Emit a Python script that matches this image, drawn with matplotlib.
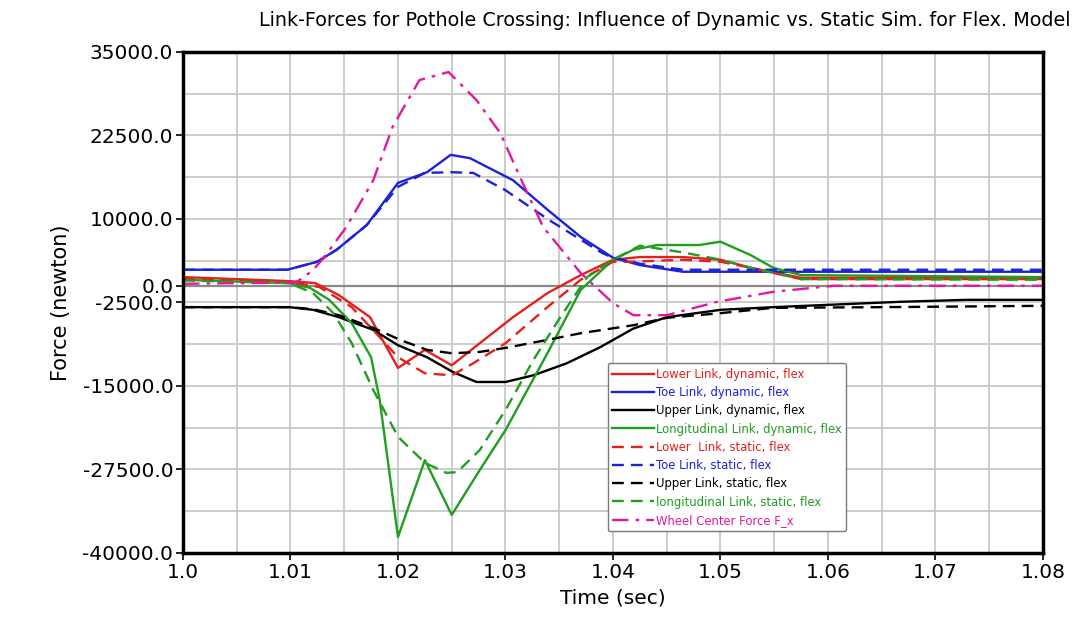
import numpy as np
import matplotlib
matplotlib.use("Agg")
import matplotlib.pyplot as plt

# link force histories (time in s, force in N)
lower_dyn_t = [1.0, 1.0099, 1.0123, 1.0145, 1.0174, 1.020, 1.0225, 1.025, 1.0276, 1.0307,
               1.0339, 1.037, 1.040, 1.0425, 1.0465, 1.050, 1.0528, 1.0575, 1.08]
lower_dyn_f = [1300, 700, 400, -1400, -4700, -12300, -9600, -11900, -8600, -4700,
               -1100, 1600, 3900, 4300, 4300, 3900, 2700, 1200, 1200]

toe_dyn_t = [1.0, 1.0097, 1.0125, 1.0143, 1.0171, 1.020, 1.0227, 1.0249, 1.0267, 1.0307,
             1.0339, 1.037, 1.040, 1.0425, 1.0465, 1.055, 1.08]
toe_dyn_f = [2400, 2400, 3600, 5400, 9100, 15400, 17000, 19600, 19100, 15800,
             11400, 7300, 4200, 3100, 2100, 2100, 2100]

upper_dyn_t = [1.0, 1.0099, 1.0121, 1.0145, 1.0177, 1.020, 1.0227, 1.0251, 1.0273, 1.030,
               1.0326, 1.0357, 1.0388, 1.0419, 1.045, 1.050, 1.0549, 1.0667, 1.073, 1.08]
upper_dyn_f = [-3200, -3200, -3600, -4700, -6600, -8900, -10700, -12900, -14400, -14400,
               -13400, -11600, -9200, -6400, -4700, -3600, -3200, -2400, -2100, -2100]

long_dyn_t = [1.0, 1.0099, 1.0118, 1.0136, 1.0157, 1.0175, 1.0183, 1.020, 1.0225, 1.025,
              1.0276, 1.030, 1.0339, 1.037, 1.040, 1.0419, 1.0441, 1.048, 1.050, 1.0528,
              1.0549, 1.0575, 1.08]
long_dyn_f = [900, 400, -300, -2100, -5600, -10700, -17100, -37600, -26100, -34300,
              -27600, -21600, -10100, -600, 3900, 5400, 6100, 6100, 6600, 4600,
              2700, 1600, 1300]

lower_sta_t = [1.0, 1.0099, 1.0127, 1.0157, 1.0183, 1.020, 1.0225, 1.025, 1.027, 1.030,
               1.0339, 1.037, 1.040, 1.0419, 1.0465, 1.050, 1.0528, 1.0575, 1.08]
lower_sta_f = [1100, 600, -200, -3200, -7700, -10700, -13100, -13400, -11600, -8600,
               -3200, 900, 3600, 3600, 3900, 3600, 2700, 1000, 1000]

toe_sta_t = [1.0, 1.0097, 1.0125, 1.0143, 1.0171, 1.020, 1.0225, 1.025, 1.027, 1.030,
             1.034, 1.037, 1.039, 1.040, 1.0425, 1.0465, 1.08]
toe_sta_f = [2400, 2400, 3600, 5400, 9100, 14800, 16900, 17000, 16900, 14300,
             9900, 6900, 4900, 4200, 3300, 2400, 2400]

upper_sta_t = [1.0, 1.0099, 1.0121, 1.0145, 1.0177, 1.0202, 1.0227, 1.025, 1.0276, 1.030,
               1.0339, 1.037, 1.0419, 1.045, 1.050, 1.0549, 1.065, 1.08]
upper_sta_f = [-3200, -3200, -3500, -4400, -6300, -8100, -9600, -10100, -9900, -9300,
               -8100, -7100, -5900, -4800, -4100, -3300, -3200, -3000]

long_sta_t = [1.0, 1.0099, 1.0121, 1.014, 1.0157, 1.0177, 1.020, 1.0225, 1.0245, 1.0255,
              1.0276, 1.030, 1.0326, 1.0351, 1.0376, 1.040, 1.0425, 1.0465, 1.050, 1.0528,
              1.0575, 1.08]
long_sta_f = [800, 400, -1100, -4100, -8600, -15600, -22600, -26500, -28000, -27900,
              -24600, -18600, -11100, -4700, 1300, 3900, 6000, 5000, 3900, 2700,
              1000, 900]

wheel_t = [1.0, 1.0105, 1.012, 1.013, 1.0152, 1.0177, 1.0195, 1.022, 1.0247, 1.0273,
           1.0295, 1.0316, 1.0335, 1.037, 1.040, 1.0419, 1.045, 1.0497, 1.0549, 1.0605,
           1.065, 1.08]
wheel_f = [300, 500, 2200, 4000, 8800, 15800, 23800, 30800, 32000, 27800,
           22900, 15400, 8800, 1900, -2600, -4400, -4400, -2400, -900, 0,
           0, 0]

labels = [
    "Lower Link, dynamic, flex",
    "Toe Link, dynamic, flex",
    "Upper Link, dynamic, flex",
    "Longitudinal Link, dynamic, flex",
    "Lower  Link, static, flex",
    "Toe Link, static, flex",
    "Upper Link, static, flex",
    "longitudinal Link, static, flex",
    "Wheel Center Force F_x",
]

y_ticks = [-40000, -27500, -15000, -2500, 0, 10000, 22500, 35000]
x_ticks = [1.0, 1.01, 1.02, 1.03, 1.04, 1.05, 1.06, 1.07, 1.08]
x_tick_labels = ["1.0", "1.01", "1.02", "1.03", "1.04", "1.05", "1.06", "1.07", "1.08"]

RED, BLUE, BLACK, GREEN, MAGENTA = "#e3201b", "#1c22d6", "#000000", "#1f9e1f", "#e3189c"
dash = (0, (5, 3))

series = [
    (lower_dyn_t, lower_dyn_f, RED, "-"),
    (toe_dyn_t, toe_dyn_f, BLUE, "-"),
    (upper_dyn_t, upper_dyn_f, BLACK, "-"),
    (long_dyn_t, long_dyn_f, GREEN, "-"),
    (lower_sta_t, lower_sta_f, RED, dash),
    (toe_sta_t, toe_sta_f, BLUE, dash),
    (upper_sta_t, upper_sta_f, BLACK, dash),
    (long_sta_t, long_sta_f, GREEN, dash),
    (wheel_t, wheel_f, MAGENTA, (0, (7, 3, 1.5, 3))),
]

fig = plt.figure(figsize=(10.86, 6.18), dpi=100)
ax = fig.add_axes([0.1685, 0.1052, 0.7919, 0.8107])

ax.set_xlim(1.0, 1.08)
ax.set_ylim(-40000, 35000)

ax.set_xticks(x_ticks)
ax.set_xticklabels(x_tick_labels)
ax.set_xticks(np.arange(1.0, 1.0801, 0.005), minor=True)
ax.set_yticks(y_ticks)
ax.set_yticklabels([f"{v:.1f}" for v in y_ticks])
ax.set_yticks(np.arange(-40000, 35001, 6250), minor=True)
ax.grid(True, which="both", color="#c8c8c8", linewidth=1.3)
ax.axhline(0, color="#8a8a8a", linewidth=1.6, zorder=1)
ax.tick_params(which="major", length=5, width=1.2, labelsize=14.5, pad=2)
ax.tick_params(which="minor", length=0)
ax.set_axisbelow(True)

for sp in ax.spines.values():
    sp.set_linewidth(2.5)

handles = []
for (t, f, color, ls), label in zip(series, labels):
    (line,) = ax.plot(t, f, color=color, linestyle=ls, linewidth=1.7, label=label)
    handles.append(line)

leg = ax.legend(
    handles=handles,
    loc="upper left",
    bbox_to_anchor=(0.494, 0.379),
    fontsize=8.4,
    handlelength=3.6,
    handletextpad=0.1,
    labelspacing=0.45,
    borderaxespad=0,
    fancybox=True,
    framealpha=1,
    edgecolor="#7a7a7a",
)
leg.get_frame().set_linewidth(1.0)
for text, (_, _, color, _) in zip(leg.get_texts(), series):
    text.set_color(color)

ax.set_xlabel("Time (sec)", fontsize=14.5, labelpad=5)
ax.set_ylabel("Force (newton)", fontsize=15, labelpad=8)
fig.text(0.612, 0.967, "Link-Forces for Pothole Crossing: Influence of Dynamic vs. Static Sim. for Flex. Model",
         ha="center", va="center", fontsize=13.8)

fig.savefig("out.png", dpi=100)
